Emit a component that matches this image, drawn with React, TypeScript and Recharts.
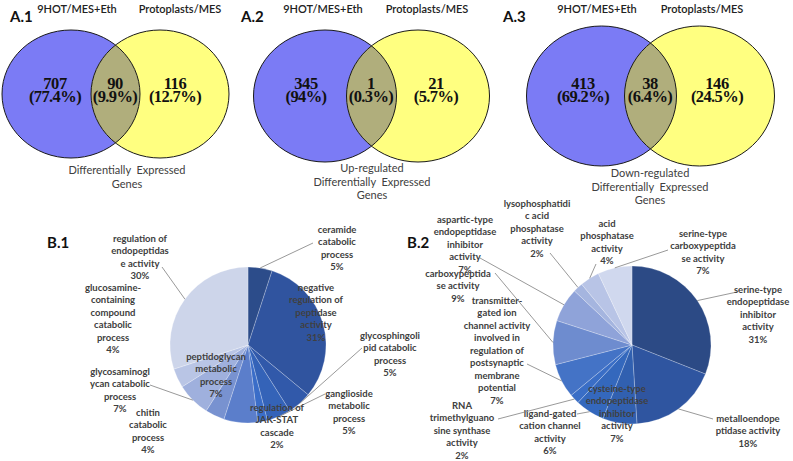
import { Cell, Pie, PieChart, Scatter, ScatterChart, XAxis, YAxis } from "recharts"

// Venn diagrams (A.1 - A.3)
const SETS = ["9HOT/MES+Eth", "Protoplasts/MES"]
const REGIONS = ["9HOT/MES+Eth only", "both", "Protoplasts/MES only"]
const A1_COUNTS = [707, 90, 116]
const A1_PCTS = ["77.4%", "9.9%", "12.7%"]
const A2_COUNTS = [345, 1, 21]
const A2_PCTS = ["94%", "0.3%", "5.7%"]
const A3_COUNTS = [413, 38, 146]
const A3_PCTS = ["69.2%", "6.4%", "24.5%"]
const A1_CAPTION = ["Differentially  Expressed", "Genes"]
const A2_CAPTION = ["Up-regulated", "Differentially  Expressed", "Genes"]
const A3_CAPTION = ["Down-regulated", "Differentially  Expressed", "Genes"]

// Pie B.1
const B1_TERMS = [
  "ceramide\ncatabolic\nprocess",
  "negative\nregulation of\npeptidase\nactivity",
  "glycosphingoli\npid catabolic\nprocess",
  "ganglioside\nmetabolic\nprocess",
  "regulation of\nJAK-STAT\ncascade",
  "peptidoglycan\nmetabolic\nprocess",
  "chitin\ncatabolic\nprocess",
  "glycosaminogl\nycan catabolic\nprocess",
  "glucosamine-\ncontaining\ncompound\ncatabolic\nprocess",
  "regulation of\nendopeptidas\ne activity",
]
const B1_VALUES = [5, 31, 5, 5, 2, 7, 4, 7, 4, 30]

// Pie B.2
const B2_TERMS = [
  "serine-type\nendopeptidase\ninhibitor\nactivity",
  "metalloendope\nptidase activity",
  "cysteine-type\nendopeptidase\ninhibitor\nactivity",
  "ligand-gated\ncation channel\nactivity",
  "RNA\ntrimethylguano\nsine synthase\nactivity",
  "transmitter-\ngated ion\nchannel activity\ninvolved in\nregulation of\npostsynaptic\nmembrane\npotential",
  "carboxypeptida\nse activity",
  "aspartic-type\nendopeptidase\ninhibitor\nactivity",
  "lysophosphatidi\nc acid\nphosphatase\nactivity",
  "acid\nphosphatase\nactivity",
  "serine-type\ncarboxypeptida\nse activity",
]
const B2_VALUES = [31, 18, 7, 6, 2, 7, 9, 7, 2, 4, 7]

const B1_COLORS = ["#2c4c8a", "#30549f", "#3159aa", "#3463b8", "#3a6dc8", "#5b7ecb", "#7892d0", "#9fb0dd", "#b9c5e5", "#cdd5ea"]
const B2_COLORS = ["#2c4a85", "#2f55a0", "#3160b0", "#3468bd", "#3a6ec6", "#4473c6", "#6e8ccf", "#8fa3d9", "#a5b5df", "#b8c4e6", "#d0d8ee"]

const LABEL_FONT = "Lato, 'Open Sans', sans-serif"
const RADIAN = Math.PI / 180

// layout of each venn panel (pixels)
const VENN_LAYOUT = [
  { tag: "A.1", left: -5, step: 60, blue: -44, yellow: 45, dy: 4, rx: 69, ry: 64, titles: [-38, 65], capX: 12, capY: 174, tagX: -105 },
  { tag: "A.2", left: 241, step: 65, blue: -46, yellow: 47, dy: 6, rx: 71.5, ry: 66, titles: [-48, 56], capX: 1, capY: 172, tagX: -130 },
  { tag: "A.3", left: 516, step: 67, blue: -48.5, yellow: 49.5, dy: 6, rx: 75, ry: 70, titles: [-53, 52], capX: 0, capY: 177, tagX: -147 },
]

// label anchor (center x, first baseline) and leader-line start, page pixels
const B1_LABELS = [
  { x: 337, y: 232.5, line: [313, 243] },
  { x: 316, y: 290.5 },
  { x: 390, y: 338.5, line: [362, 348] },
  { x: 349, y: 396.5, line: [325, 394] },
  { x: 277, y: 410.5 },
  { x: 216, y: 359.5 },
  { x: 148, y: 415.5 },
  { x: 120, y: 374.5, line: [150, 385] },
  { x: 113, y: 290.5 },
  { x: 140, y: 241.5, line: [162, 267] },
]
const B2_LABELS = [
  { x: 758, y: 292.5, line: [737, 292] },
  { x: 748, y: 421.5, line: [713, 419] },
  { x: 617, y: 391.5 },
  { x: 550, y: 416.5, line: [577, 414] },
  { x: 462, y: 408.5, line: [498, 419] },
  { x: 497, y: 303.5, line: [527, 364] },
  { x: 458, y: 276.5, line: [495, 273] },
  { x: 465, y: 222.5, line: [480, 258] },
  { x: 537, y: 206.5, line: [550, 253] },
  { x: 607, y: 226.5, line: [596, 264] },
  { x: 703, y: 236.5, line: [668, 250] },
]

function VennSets(props: any) {
  const { cx, cy, lay, captions } = props
  const bx = cx + lay.blue
  const yx = cx + lay.yellow
  const ey = cy + lay.dy
  const clipId = `clip-${lay.tag.replace(".", "")}`
  return (
    <g>
      <defs>
        <clipPath id={clipId}>
          <ellipse cx={bx} cy={ey} rx={lay.rx} ry={lay.ry} />
        </clipPath>
      </defs>
      <ellipse cx={bx} cy={ey} rx={lay.rx} ry={lay.ry} fill="#7b7bf5" />
      <ellipse cx={yx} cy={ey} rx={lay.rx} ry={lay.ry} fill="#ffff80" />
      <ellipse cx={yx} cy={ey} rx={lay.rx} ry={lay.ry} fill="#b0ae7c" clipPath={`url(#${clipId})`} />
      <ellipse cx={bx} cy={ey} rx={lay.rx} ry={lay.ry} fill="none" stroke="#1a1a1a" strokeWidth={1} />
      <ellipse cx={yx} cy={ey} rx={lay.rx} ry={lay.ry} fill="none" stroke="#1a1a1a" strokeWidth={1} />
      {SETS.map((s, i) => (
        <text key={s} x={cx + lay.titles[i]} y={13} textAnchor="middle" fontFamily={LABEL_FONT} fontWeight={600} fontSize={11} fill="#222">
          {s}
        </text>
      ))}
      {captions.map((c: string, i: number) => (
        <text key={i} x={cx + lay.capX} y={lay.capY + i * 13.5} textAnchor="middle" fontFamily={LABEL_FONT} fontSize={11} fill="#404040" style={{ whiteSpace: "pre" }}>
          {c}
        </text>
      ))}
      <text x={cx + lay.tagX} y={22} fontFamily={LABEL_FONT} fontWeight={700} fontSize={15} fill="#111">
        {lay.tag}
      </text>
    </g>
  )
}

function RegionLabel(props: any) {
  const { cx, cy, payload } = props
  return (
    <g>
      <text x={cx} y={cy - 1.5} textAnchor="middle" fontFamily="'Liberation Serif', serif" fontWeight={700} fontSize={16.5} letterSpacing={-0.4} fill="#111">
        {payload.count}
      </text>
      <text x={cx} y={cy + 11.5} textAnchor="middle" fontFamily="'Liberation Serif', serif" fontWeight={700} fontSize={16.5} letterSpacing={-0.6} fill="#111">
        ({payload.pct})
      </text>
    </g>
  )
}

function Venn({ lay, counts, pcts, captions }: any) {
  const data = REGIONS.map((r, i) => ({ region: r, x: i, y: 0.5, count: counts[i], pct: pcts[i] }))
  const both = data.filter((d) => d.region === "both")
  return (
    <div style={{ position: "absolute", left: lay.left, top: 0 }}>
      <ScatterChart width={lay.step * 4} height={210} margin={{ top: 0, right: 0, bottom: 30, left: 0 }}>
        <XAxis type="number" dataKey="x" domain={[-1, 3]} hide />
        <YAxis type="number" dataKey="y" domain={[0, 1]} hide />
        <Scatter data={both} isAnimationActive={false} shape={(p: any) => <VennSets {...p} lay={lay} captions={captions} />} />
        <Scatter data={data} isAnimationActive={false} shape={(p: any) => <RegionLabel {...p} />} />
      </ScatterChart>
    </div>
  )
}

function makePieLabel(terms: string[], values: number[], layout: any[]) {
  return (props: any) => {
    const { cx, cy, midAngle, outerRadius, index } = props
    const lay = layout[index]
    const lines = [...terms[index].split("\n"), `${values[index]}%`]
    const ex = cx + outerRadius * Math.cos(-midAngle * RADIAN)
    const ey = cy + outerRadius * Math.sin(-midAngle * RADIAN)
    return (
      <g key={`lbl-${index}`}>
        {lay.line && (
          <line x1={lay.line[0]} y1={lay.line[1]} x2={ex} y2={ey} stroke="#7f7f7f" strokeWidth={0.8} />
        )}
        <text x={lay.x} y={lay.y} textAnchor="middle" fontFamily={LABEL_FONT} fontWeight={700} fontSize={9.5} fill="#404040">
          {lines.map((l, i) => (
            <tspan key={i} x={lay.x} dy={i === 0 ? 0 : 12.5}>
              {l}
            </tspan>
          ))}
        </text>
      </g>
    )
  }
}

export default function App() {
  const b1 = B1_TERMS.map((t, i) => ({ name: t, value: B1_VALUES[i] }))
  const b2 = B2_TERMS.map((t, i) => ({ name: t, value: B2_VALUES[i] }))

  return (
    <div style={{ position: "relative", width: 793, height: 461, background: "#fff", overflow: "hidden" }}>
      <style>{`body{margin:0}.recharts-surface{overflow:visible}`}</style>
      <Venn lay={VENN_LAYOUT[0]} counts={A1_COUNTS} pcts={A1_PCTS} captions={A1_CAPTION} />
      <Venn lay={VENN_LAYOUT[1]} counts={A2_COUNTS} pcts={A2_PCTS} captions={A2_CAPTION} />
      <Venn lay={VENN_LAYOUT[2]} counts={A3_COUNTS} pcts={A3_PCTS} captions={A3_CAPTION} />

      <div style={{ position: "absolute", left: 0, top: 0 }}>
        <PieChart width={793} height={461}>
          <Pie
            data={b1}
            dataKey="value"
            cx={243}
            cy={340}
            outerRadius={78}
            startAngle={90}
            endAngle={-270}
            stroke="#ffffff"
            strokeWidth={0.4}
            strokeOpacity={0.6}
            labelLine={false}
            label={makePieLabel(B1_TERMS, B1_VALUES, B1_LABELS)}
            isAnimationActive={false}
          >
            {b1.map((_, i) => (
              <Cell key={`b1-${i}`} fill={B1_COLORS[i]} />
            ))}
          </Pie>
          <Pie
            data={b2}
            dataKey="value"
            cx={627}
            cy={340}
            outerRadius={79}
            startAngle={90}
            endAngle={-270}
            stroke="#ffffff"
            strokeWidth={0.4}
            strokeOpacity={0.6}
            labelLine={false}
            label={makePieLabel(B2_TERMS, B2_VALUES, B2_LABELS)}
            isAnimationActive={false}
          >
            {b2.map((_, i) => (
              <Cell key={`b2-${i}`} fill={B2_COLORS[i]} />
            ))}
          </Pie>
          <text x={47} y={248} fontFamily={LABEL_FONT} fontWeight={700} fontSize={15} fill="#111">
            B.1
          </text>
          <text x={407} y={248} fontFamily={LABEL_FONT} fontWeight={700} fontSize={15} fill="#111">
            B.2
          </text>
        </PieChart>
      </div>
    </div>
  )
}
